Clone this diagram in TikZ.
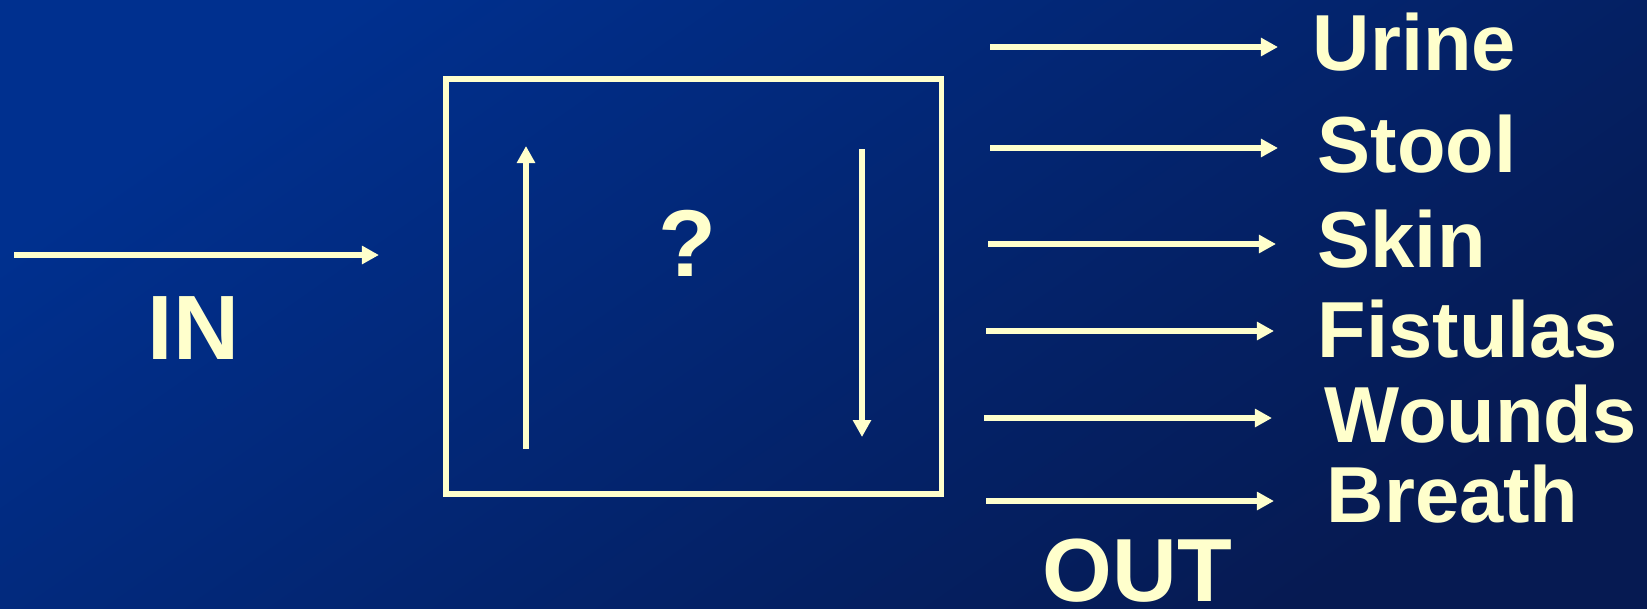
\documentclass[tikz,border=0pt]{standalone}
\usepackage{fontspec}
\setmainfont{Liberation Sans}
\usetikzlibrary{arrows.meta}
\definecolor{cream}{HTML}{FFFFCC}
\definecolor{bgtop}{HTML}{00308F}
\definecolor{bgmid}{HTML}{0034A0}
\definecolor{bgend}{HTML}{061A52}
\tikzset{
  box/.style    = {rectangle, draw=cream, line width=1.6pt, minimum width=4.955cm,
                   minimum height=4.15cm, inner sep=0pt},
  flow/.style   = {-{Triangle[length=1.7mm,width=1.75mm]}, line width=1.55pt, draw=cream},
  biglbl/.style = {text=cream, font=\fontsize{26}{28}\selectfont\bfseries,
                   inner sep=0pt, anchor=base west},
  outlbl/.style = {text=cream, font=\fontsize{22.6}{25}\selectfont\bfseries,
                   inner sep=0pt, anchor=base west},
}

\begin{document}
\begin{tikzpicture}[x=0.01cm, y=-0.01cm]

  \shade[top color=bgtop, middle color=bgmid, bottom color=bgend, shading angle=35]
    (0,0) rectangle (1647,608);
  \useasboundingbox (0,0) rectangle (1647,608);

  % the body
  \node[box] (body) at (693.7,286.5) {};
  \node[biglbl, font=\fontsize{27}{29}\selectfont\bfseries, anchor=base] (unknown) at (687,276) {?};
  \coordinate (rise-a) at (526,449);
  \coordinate (rise-b) at (526,146);
  \coordinate (fall-a) at (862,149);
  \coordinate (fall-b) at (862,437);
  \draw[flow] (rise-a) -- (rise-b);
  \draw[flow] (fall-a) -- (fall-b);

  % intake
  \coordinate (in-a) at (14,255);
  \draw[flow, shorten >=0.64cm] (in-a) -- (in-a -| body.west);
  \node[biglbl] (inlbl) at (147,359) {IN};

  % losses
  \node[outlbl] (urine)    at (1312,70)  {Urine};
  \node[outlbl] (stool)    at (1317,172) {Stool};
  \node[outlbl] (skin)     at (1317,267) {Skin};
  \node[outlbl] (fistulas) at (1317,357) {Fistulas};
  \node[outlbl] (wounds)   at (1324,442) {Wounds};
  \node[outlbl] (breath)   at (1326,522) {Breath};
  \node[biglbl, font=\fontsize{25.5}{28}\selectfont\bfseries] (outlbl) at (1042,601) {OUT};

  \coordinate (o-urine)    at (990,47);
  \coordinate (o-stool)    at (990,148);
  \coordinate (o-skin)     at (988,244);
  \coordinate (o-fistulas) at (986,331);
  \coordinate (o-wounds)   at (984,418);
  \coordinate (o-breath)   at (986,501);
  \draw[flow, shorten >=0.34cm] (o-urine)    -- (o-urine -| urine.west);
  \draw[flow, shorten >=0.39cm] (o-stool)    -- (o-stool -| stool.west);
  \draw[flow, shorten >=0.41cm] (o-skin)     -- (o-skin -| skin.west);
  \draw[flow, shorten >=0.43cm] (o-fistulas) -- (o-fistulas -| fistulas.west);
  \draw[flow, shorten >=0.52cm] (o-wounds)   -- (o-wounds -| wounds.west);
  \draw[flow, shorten >=0.52cm] (o-breath)   -- (o-breath -| breath.west);

\end{tikzpicture}
\end{document}
